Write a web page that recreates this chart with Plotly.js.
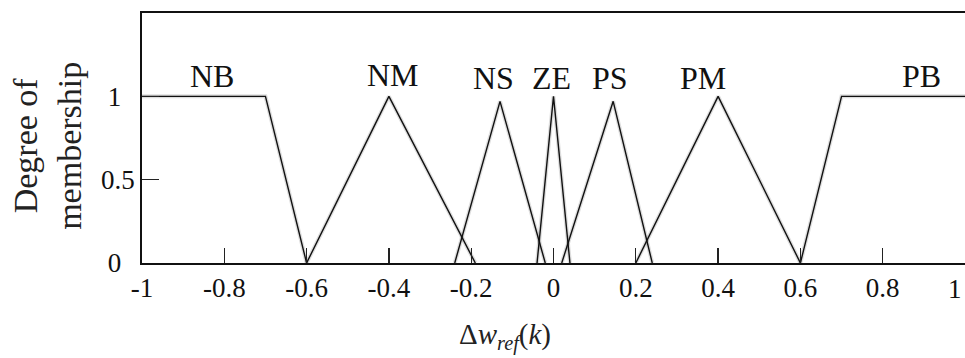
<!DOCTYPE html>
<html>
<head>
<meta charset="utf-8">
<script src="https://cdn.plot.ly/plotly-3.0.1.min.js"></script>
<style>
  html, body { margin: 0; padding: 0; background: #fff; }
  #chart { width: 965px; height: 358px; }
</style>
</head>
<body>
<div id="chart"></div>
<script>
// Membership functions (breakpoints)
const nbX = [-1, -0.7, -0.6];   const nbY = [1, 1, 0];
const nmX = [-0.6, -0.4, -0.19]; const nmY = [0, 1, 0];
const nsX = [-0.24, -0.13, -0.02]; const nsY = [0, 0.97, 0];
const zeX = [-0.04, 0, 0.04];   const zeY = [0, 1, 0];
const psX = [0.02, 0.145, 0.24]; const psY = [0, 0.97, 0];
const pmX = [0.2, 0.4, 0.6];    const pmY = [0, 1, 0];
const pbX = [0.6, 0.7, 1];      const pbY = [0, 1, 1];

// Set names and where their labels sit (data coordinates)
const setNames = ["NB", "NM", "NS", "ZE", "PS", "PM", "PB"];
const labelX = [-0.83, -0.39, -0.145, -0.005, 0.138, 0.363, 0.895];
const labelY = [1.12, 1.13, 1.11, 1.11, 1.11, 1.11, 1.12];

// Axis ticks
const xTickVals = [-1, -0.8, -0.6, -0.4, -0.2, 0, 0.2, 0.4, 0.6, 0.8, 1];
const xTickText = ["-1", "-0.8", "-0.6", "-0.4", "-0.2", "0", "0.2", "0.4", "0.6", "0.8", "1"];
const yTickVals = [0, 0.5, 1];
const yTickText = ["0\u2002", "0.5", "1\u2002"];

const sets = [[nbX, nbY], [nmX, nmY], [nsX, nsY], [zeX, zeY], [psX, psY], [pmX, pmY], [pbX, pbY]];

const traces = [];
// soft grey halo under each line (the original has a blurred shadow)
sets.forEach(([x, y]) => traces.push({
  x: x, y: y, type: 'scatter', mode: 'lines', hoverinfo: 'skip',
  line: { color: 'rgba(0,0,0,0.13)', width: 4 }, showlegend: false
}));
sets.forEach(([x, y]) => traces.push({
  x: x, y: y, type: 'scatter', mode: 'lines',
  line: { color: '#111', width: 1.4 }, showlegend: false
}));

const serif = "Liberation Serif";
const tickSize = 27;

const annotations = setNames.map((n, i) => ({
  x: labelX[i], y: labelY[i], xref: 'x', yref: 'y',
  text: n, showarrow: false, xanchor: 'center', yanchor: 'middle',
  font: { family: serif, size: 32, color: '#111' }
}));

// last x tick label sits at the very right edge of the figure: draw it right-aligned
const lastIdx = xTickVals.length - 1;
annotations.push({
  x: xTickVals[lastIdx], y: 0, xref: 'x', yref: 'y',
  text: xTickText[lastIdx], showarrow: false, xanchor: 'right', yanchor: 'top',
  xshift: -1, yshift: -9,
  font: { family: serif, size: tickSize, color: '#111' }
});
const shownXTicks = xTickText.map((t, i) => i === lastIdx ? '' : t);

// y-axis title (two lines, rotated)
annotations.push({
  xref: 'paper', yref: 'paper', x: -0.115, y: 0.47,
  text: 'Degree of<br>membership', textangle: -90, showarrow: false,
  xanchor: 'center', yanchor: 'middle',
  font: { family: serif, size: 34, color: '#222' }
});
// x-axis title
annotations.push({
  xref: 'paper', yref: 'paper', x: 0.441, y: -0.295,
  text: 'Δ<i>w</i><sub><i>ref</i></sub>(<i>k</i>)', showarrow: false,
  xanchor: 'center', yanchor: 'middle',
  font: { family: serif, size: 29, color: '#222' }
});

const layout = {
  width: 965, height: 358,
  font: { family: serif, size: tickSize, color: '#111' },
  margin: { l: 142, r: 0, t: 13, b: 95 },
  paper_bgcolor: '#fff', plot_bgcolor: '#fff',
  showlegend: false,
  xaxis: {
    range: [-1, 1], tickmode: 'array', tickvals: xTickVals, ticktext: shownXTicks,
    ticks: 'inside', ticklen: 15, tickwidth: 1.3, tickcolor: '#222',
    showline: true, linecolor: '#111', linewidth: 1.8, mirror: true,
    showgrid: false, zeroline: false,
    tickfont: { family: serif, size: tickSize, color: '#111' }
  },
  yaxis: {
    range: [0, 1.5], tickmode: 'array', tickvals: yTickVals, ticktext: yTickText,
    ticks: 'inside', ticklen: 17, tickwidth: 1.3, tickcolor: '#222',
    showline: true, linecolor: '#111', linewidth: 1.8,
    showgrid: false, zeroline: false,
    tickfont: { family: serif, size: tickSize, color: '#111' }
  },
  annotations: annotations
};

Plotly.newPlot('chart', traces, layout, { staticPlot: true, displayModeBar: false });
</script>
</body>
</html>
